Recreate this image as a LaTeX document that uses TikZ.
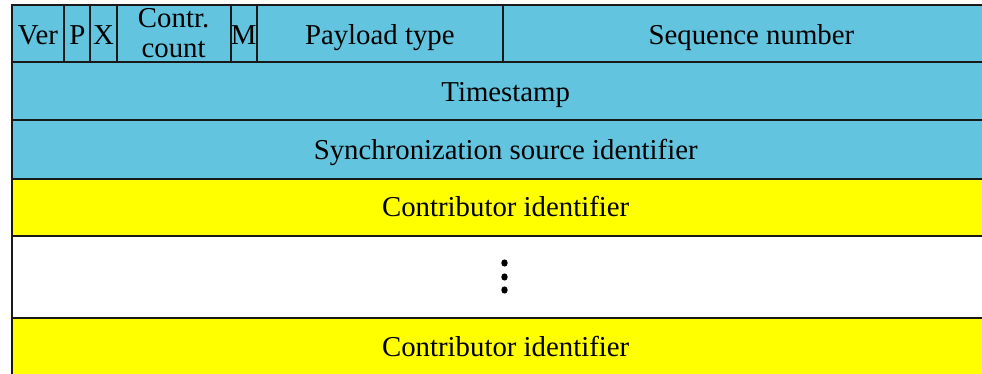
\documentclass[tikz,border=0pt]{standalone}
\usepackage{fontspec}
\setmainfont{Liberation Serif}
\newfontfamily\fieldfont{Liberation Serif}
\definecolor{hdrblue}{RGB}{98,196,222}
\definecolor{csrcyellow}{RGB}{255,255,0}
\begin{document}
\begin{tikzpicture}[x=1pt,y=-1pt,
  field/.style={draw=black!90, line width=2pt},
  lbl/.style={anchor=base, inner sep=0pt, font=\fieldfont\fontsize{28.8}{30}\selectfont}]
\useasboundingbox (0,0) rectangle (982,374);
\clip (0,0) rectangle (982,374);
% first header word
\draw[field, fill=hdrblue] (11.5,5) rectangle (64.3,62.5);
\draw[field, fill=hdrblue] (64.3,5) rectangle (90.3,62.5);
\draw[field, fill=hdrblue] (90.3,5) rectangle (116.5,62.5);
\draw[field, fill=hdrblue] (116.5,5) rectangle (230.7,62.5);
\draw[field, fill=hdrblue] (230.7,5) rectangle (256.8,62.5);
\draw[field, fill=hdrblue] (256.8,5) rectangle (502.7,62.5);
\draw[field, fill=hdrblue] (502.7,5) rectangle (1000,62.5);
% timestamp and SSRC
\draw[field, fill=hdrblue] (11.5,62.5) rectangle (1000,120.5);
\draw[field, fill=hdrblue] (11.5,120.5) rectangle (1000,179);
% CSRC list
\draw[field, fill=csrcyellow] (11.5,179) rectangle (1000,235.5);
\draw[field, fill=white] (11.5,235.5) rectangle (1000,318);
\draw[field, fill=csrcyellow] (11.5,318) rectangle (1000,380);
% labels
\node[lbl] (ver) at (37.9,45) {Ver};
\node[lbl] (pad) at (77.3,45) {P};
\node[lbl] (ext) at (103.4,45) {X};
\node[lbl] (cc1) at (173.6,28) {Contr.};
\node[lbl] (cc2) at (173.6,58) {count};
\node[lbl] (mrk) at (243.8,45) {M};
\node[lbl] (pt) at (379.8,45) {Payload type};
\node[lbl] (seq) at (751.4,45) {Sequence number};
\node[lbl] (ts) at (505.7,102) {Timestamp};
\node[lbl] (ssrc) at (505.7,160) {Synchronization source identifier};
\node[lbl] (csrc1) at (505.7,216) {Contributor identifier};
\node[lbl] (csrc2) at (505.7,356) {Contributor identifier};
% ellipsis
\foreach \yy in {263,277,290} \fill (504.5,\yy) ellipse (3.2pt and 3.6pt);
\end{tikzpicture}
\end{document}
